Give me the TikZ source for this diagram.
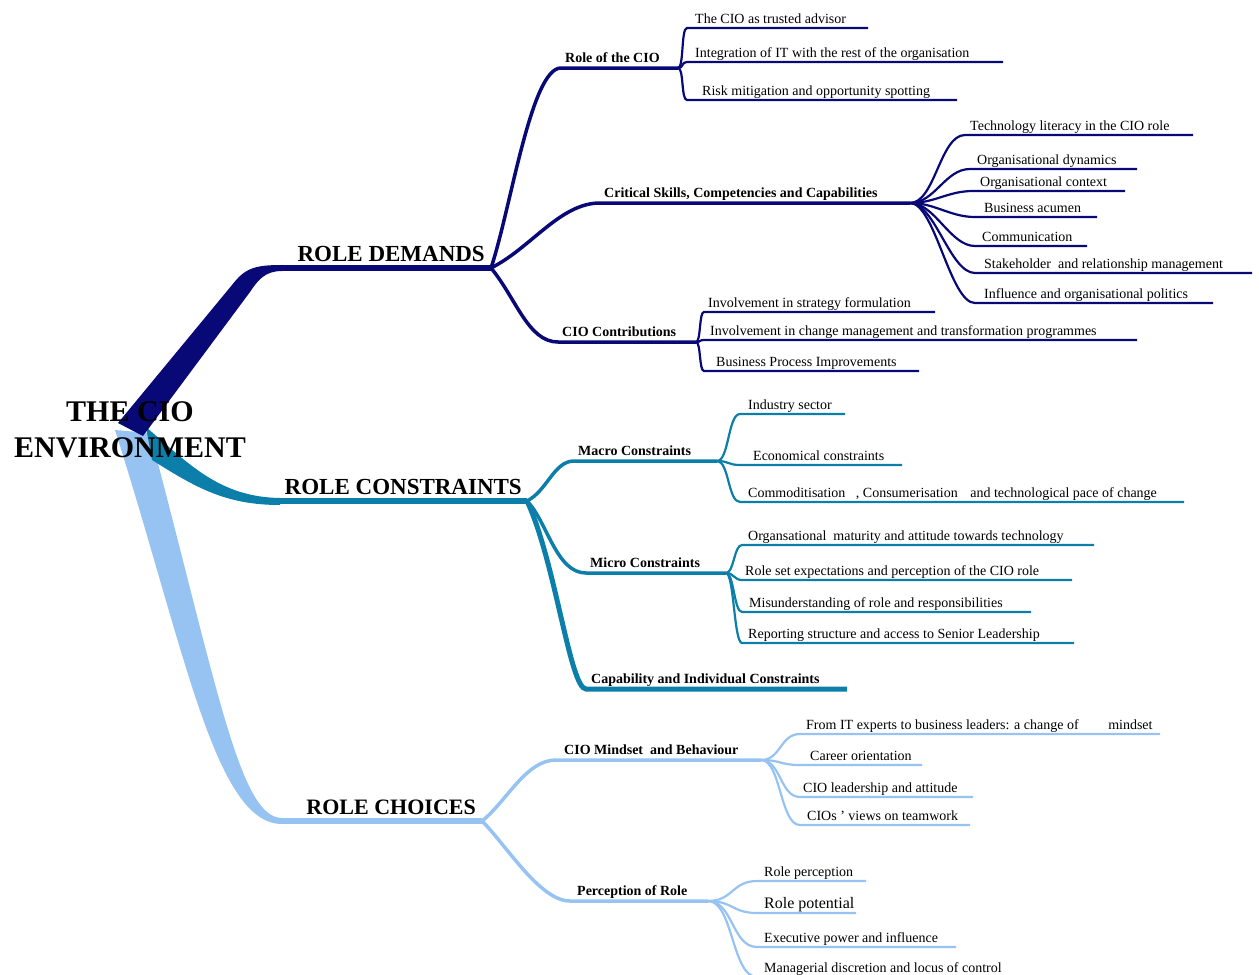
\documentclass[tikz,border=0pt]{standalone}
\usepackage{fontspec}
\setmainfont{Liberation Serif}
\definecolor{demand}{RGB}{8,8,118}
\definecolor{constraint}{RGB}{12,126,170}
\definecolor{choice}{RGB}{150,195,242}

\begin{document}
\begin{tikzpicture}[x=1pt, y=-1pt]
        \tikzstyle{leaf}=[anchor=base west, inner xsep=8pt, inner ysep=0pt, font=\fontsize{14}{16}\selectfont]
        \tikzstyle{topic}=[anchor=base west, inner xsep=4pt, inner ysep=0pt, font=\bfseries\fontsize{14}{16}\selectfont]
        \tikzstyle{theme}=[anchor=base east, inner xsep=3pt, inner ysep=0pt, font=\bfseries\fontsize{23}{26}\selectfont]
        \tikzstyle{leafline}=[line width=2.2pt]
        \tikzstyle{topicline}=[line width=3.5pt]
        \tikzstyle{themeline}=[line width=6pt]

        \useasboundingbox (0,0) rectangle (1259,975);

        % centre and the three themes
        \coordinate (hub) at (130,430);
        \node[theme] (dm) at (488,261) {ROLE DEMANDS};
        \node[theme] (cn) at (525,494) {ROLE CONSTRAINTS};
        \node[theme, font=\bfseries\fontsize{22}{26}\selectfont] (ch) at (479,814) {ROLE CHOICES};

        \coordinate (dm0) at (282,268);  \coordinate (dmx) at (491,268);
        \coordinate (cn0) at (280,501);  \coordinate (cnx) at (527,501);
        \coordinate (ch0) at (282,821);  \coordinate (chx) at (482,821);

        % role demands
        \node[topic] (rc) at (561,62) {Role of the CIO};
        \node[topic] (cs) at (600,197) {Critical Skills, Competencies and Capabilities};
        \node[topic] (cc) at (558,336) {CIO Contributions};
        \coordinate (rcx) at (678,68);
        \coordinate (csx) at (910,203);
        \coordinate (ccx) at (696,342);

        \node[leaf] (a1) at (687,23) {The CIO as trusted advisor};
        \node[leaf] (a2) at (687,57) {Integration of IT with the rest of the organisation};
        \node[leaf, inner xsep=15pt] (a3) at (687,95) {Risk mitigation and opportunity spotting};

        \node[leaf, inner xsep=5pt] (b1) at (965,130) {Technology literacy in the CIO role};
        \node[leaf, inner xsep=7pt] (b2) at (970,164) {Organisational dynamics};
        \node[leaf, inner xsep=7pt] (b3) at (973,186) {Organisational context};
        \node[leaf, inner xsep=9pt] (b4) at (975,212) {Business acumen};
        \node[leaf, inner xsep=7pt] (b5) at (975,241) {Communication};
        \node[leaf, inner xsep=9pt] (b6) at (975,268) {Stakeholder\ \ and relationship management};
        \node[leaf, inner xsep=9pt] (b7) at (975,298) {Influence and organisational politics};

        \node[leaf, inner xsep=4pt] (c1) at (704,307) {Involvement in strategy formulation};
        \node[leaf, inner xsep=6pt] (c2) at (704,335) {Involvement in change management and transformation programmes};
        \node[leaf, inner xsep=12pt] (c3) at (704,366) {Business Process Improvements};

        % role constraints
        \node[topic] (ma) at (574,455) {Macro Constraints};
        \node[topic] (mi) at (586,567) {Micro Constraints};
        \node[topic, inner xsep=5pt] (ca) at (586,683) {Capability and Individual Constraints};
        \coordinate (max) at (717,461);
        \coordinate (mix) at (726,573);

        \node[leaf] (d1) at (740,409) {Industry sector};
        \node[leaf, inner xsep=13pt] (d2) at (740,460) {Economical constraints};
        \node[leaf] (d3) at (740,497) {Commoditisation\hspace{7pt} , Consumerisation\hspace{9pt} and technological pace of change};

        \node[leaf, inner xsep=6pt] (e1) at (742,540) {Organsational\ \ maturity and attitude towards technology};
        \node[leaf, inner xsep=3pt] (e2) at (742,575) {Role set expectations and perception of the CIO role};
        \node[leaf, inner xsep=7pt] (e3) at (742,607) {Misunderstanding of role and responsibilities};
        \node[leaf, inner xsep=6pt] (e4) at (742,638) {Reporting structure and access to Senior Leadership};

        % role choices
        \node[topic, inner xsep=8pt] (mb) at (556,754) {CIO Mindset\ \ and Behaviour};
        \node[topic, inner xsep=7pt] (pr) at (570,895) {Perception of Role};
        \coordinate (mbx) at (761,760);
        \coordinate (prx) at (708,901);

        \node[leaf, inner xsep=6pt] (f1) at (800,729) {From IT experts to business leaders: a change of\hspace{26pt} mindset};
        \node[leaf, inner xsep=10pt] (f2) at (800,760) {Career orientation};
        \node[leaf, inner xsep=3pt] (f3) at (800,792) {CIO leadership and attitude};
        \node[leaf, inner xsep=7pt] (f4) at (800,820) {CIOs ' views on teamwork};

        \node[leaf, inner xsep=7pt] (g1) at (757,876) {Role perception};
        \node[leaf, inner xsep=7pt, font=\fontsize{16}{18}\selectfont] (g2) at (757,908) {Role potential};
        \node[leaf, inner xsep=7pt] (g3) at (757,942) {Executive power and influence};
        \node[leaf, inner xsep=7pt] (g4) at (757,972) {Managerial discretion and locus of control};

        % tapered theme branches
        \fill[choice] ([shift={(-15,0)}]hub) .. controls (185,650) and (215,824) .. ([yshift=-3pt]ch0) -- ([yshift=3pt]ch0) .. controls (240,818) and (218,690) .. ([shift={(20,3)}]hub) -- cycle;
        \fill[constraint] ([shift={(16,-3)}]hub) .. controls (190,465) and (220,497) .. ([yshift=3pt]cn0) -- ([yshift=-4pt]cn0) .. controls (225,505) and (195,487) .. ([shift={(22,30)}]hub) -- cycle;
        \fill[demand] ([shift={(-12,-7)}]hub) -- (232,285) .. controls (245,268) and (255,265) .. ([yshift=3pt]dm0) -- ([yshift=-3pt]dm0) .. controls (265,271) and (258,280) .. (250,292) -- ([shift={(13,6)}]hub) -- cycle;

        \node[align=center, inner sep=0pt, font=\bfseries\fontsize{30}{36}\selectfont] (root) at (hub) {THE CIO\\ENVIRONMENT};

        \draw[themeline, demand] (dm0) -- (dmx);
        \draw[themeline, constraint] (cn0) -- (cnx);
        \draw[themeline, choice] (ch0) -- (chx);

        % demands connectors
        \draw[topicline, demand] (dmx) .. controls +(20,-60) and +(-30,0) .. ([yshift=-6pt]rc.base west) -- (rcx);
        \draw[topicline, demand] (dmx) .. controls +(40,-20) and +(-40,0) .. ([yshift=-6pt]cs.base west) -- (csx);
        \draw[topicline, demand] (dmx) .. controls +(25,30) and +(-30,0) .. ([yshift=-6pt]cc.base west) -- (ccx);

        \draw[leafline, demand] (rcx) .. controls +(6,0) and +(-6,0) .. ([yshift=-5pt]a1.base west) -- +(181,0);
        \draw[leafline, demand] (rcx) .. controls +(6,0) and +(-6,0) .. ([yshift=-5pt]a2.base west) -- +(316,0);
        \draw[leafline, demand] (rcx) .. controls +(6,0) and +(-6,0) .. ([yshift=-5pt]a3.base west) -- +(270,0);

        \draw[leafline, demand] (csx) .. controls +(25,0) and +(-25,0) .. ([yshift=-5pt]b1.base west) -- +(228,0);
        \draw[leafline, demand] (csx) .. controls +(25,0) and +(-25,0) .. ([yshift=-5pt]b2.base west) -- +(167,0);
        \draw[leafline, demand] (csx) .. controls +(25,0) and +(-25,0) .. ([yshift=-5pt]b3.base west) -- +(152,0);
        \draw[leafline, demand] (csx) .. controls +(25,0) and +(-25,0) .. ([yshift=-5pt]b4.base west) -- +(122,0);
        \draw[leafline, demand] (csx) .. controls +(25,0) and +(-25,0) .. ([yshift=-5pt]b5.base west) -- +(112,0);
        \draw[leafline, demand] (csx) .. controls +(25,0) and +(-25,0) .. ([yshift=-5pt]b6.base west) -- +(277,0);
        \draw[leafline, demand] (csx) .. controls +(25,0) and +(-25,0) .. ([yshift=-5pt]b7.base west) -- +(238,0);

        \draw[leafline, demand] (ccx) .. controls +(5,0) and +(-5,0) .. ([yshift=-5pt]c1.base west) -- +(231,0);
        \draw[leafline, demand] (ccx) .. controls +(5,0) and +(-5,0) .. ([yshift=-5pt]c2.base west) -- +(433,0);
        \draw[leafline, demand] (ccx) .. controls +(5,0) and +(-5,0) .. ([yshift=-5pt]c3.base west) -- +(215,0);

        % constraints connectors
        \draw[topicline, constraint] (cnx) .. controls +(20,-10) and +(-20,0) .. ([yshift=-6pt]ma.base west) -- (max);
        \draw[topicline, constraint] (cnx) .. controls +(20,20) and +(-30,0) .. ([yshift=-6pt]mi.base west) -- (mix);
        \draw[line width=5pt, constraint] (cnx) .. controls +(28,59) and +(-16,0) .. ([yshift=-6pt]ca.base west) -- +(261,0);

        \draw[leafline, constraint] (max) .. controls +(12,0) and +(-12,0) .. ([yshift=-5pt]d1.base west) -- +(105,0);
        \draw[leafline, constraint] (max) .. controls +(12,0) and +(-12,0) .. ([yshift=-5pt]d2.base west) -- +(162,0);
        \draw[leafline, constraint] (max) .. controls +(12,0) and +(-12,0) .. ([yshift=-5pt]d3.base west) -- +(444,0);

        \draw[leafline, constraint] (mix) .. controls +(8,0) and +(-8,0) .. ([yshift=-5pt]e1.base west) -- +(352,0);
        \draw[leafline, constraint] (mix) .. controls +(8,0) and +(-8,0) .. ([yshift=-5pt]e2.base west) -- +(330,0);
        \draw[leafline, constraint] (mix) .. controls +(8,0) and +(-8,0) .. ([yshift=-5pt]e3.base west) -- +(289,0);
        \draw[leafline, constraint] (mix) .. controls +(8,0) and +(-8,0) .. ([yshift=-5pt]e4.base west) -- +(332,0);

        % choices connectors
        \draw[topicline, choice] (chx) .. controls +(25,-20) and +(-30,0) .. ([yshift=-6pt]mb.base west) -- (mbx);
        \draw[topicline, choice] (chx) .. controls +(25,25) and +(-30,0) .. ([yshift=-6pt]pr.base west) -- (prx);

        \draw[leafline, choice] (mbx) .. controls +(20,0) and +(-20,0) .. ([yshift=-5pt]f1.base west) -- +(360,0);
        \draw[leafline, choice] (mbx) .. controls +(20,0) and +(-20,0) .. ([yshift=-5pt]f2.base west) -- +(122,0);
        \draw[leafline, choice] (mbx) .. controls +(20,0) and +(-20,0) .. ([yshift=-5pt]f3.base west) -- +(173,0);
        \draw[leafline, choice] (mbx) .. controls +(20,0) and +(-20,0) .. ([yshift=-5pt]f4.base west) -- +(170,0);

        \draw[leafline, choice] (prx) .. controls +(25,0) and +(-25,0) .. ([yshift=-5pt]g1.base west) -- +(109,0);
        \draw[leafline, choice] (prx) .. controls +(25,0) and +(-25,0) .. ([yshift=-5pt]g2.base west) -- +(99,0);
        \draw[leafline, choice] (prx) .. controls +(25,0) and +(-25,0) .. ([yshift=-5pt]g3.base west) -- +(199,0);
        \draw[leafline, choice] (prx) .. controls +(25,0) and +(-25,0) .. ([yshift=-5pt]g4.base west) -- +(250,0);
    \end{tikzpicture}
\end{document}
